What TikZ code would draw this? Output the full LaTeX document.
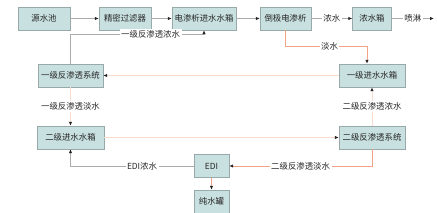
\documentclass[tikz,border=0pt]{standalone}
\usepackage{fontspec}
\newfontfamily\cjk{Noto Sans CJK SC}
\usetikzlibrary{arrows.meta,positioning,calc}
\definecolor{ink}{HTML}{262626}
\definecolor{boxfill}{HTML}{C9E0E0}
\definecolor{boxline}{HTML}{98A9A9}
\definecolor{flowgrey}{HTML}{ABABAB}
\definecolor{salmon}{HTML}{F2A286}
\definecolor{salmonlt}{HTML}{FADCCD}

\begin{document}
\begin{tikzpicture}[
  x=1pt, y=-1pt,
  font=\cjk\fontsize{8.4}{10}\selectfont,
  tank/.style={
    draw=boxline, fill=boxfill, text=ink,
    minimum height=23pt, inner sep=1pt
  },
  arr/.style={-{Latex[length=4pt,width=3.5pt,color=ink]}, draw=flowgrey, line width=0.8pt},
  hot/.style={arr, draw=salmon},
  faint/.style={arr, draw=salmonlt},
  lbl/.style={fill=white, text=ink, inner sep=1.5pt}
]
\useasboundingbox (0,0) rectangle (437,213);

% top row
\node[tank, minimum width=52pt] (src)    at (44,18.5)    {源水池};
\node[tank, minimum width=52pt] (filt)   at (125,18.5)   {精密过滤器};
\node[tank, minimum width=64pt] (edtank) at (204,18.5)   {电渗析进水水箱};
\node[tank, minimum width=51pt] (edr)    at (285.5,18.5) {倒极电渗析};
\node[tank, minimum width=39pt] (brine)  at (372,18.5)   {浓水箱};
\coordinate (spray) at (434,18.5);

% reverse osmosis
\node[tank, minimum width=66pt] (ro1tank) at (372,75.5)   {一级进水水箱};
\node[tank, minimum width=65pt] (ro1)     at (70.5,75.5)  {一级反渗透系统};
\node[tank, minimum width=67pt] (ro2tank) at (70.5,137.5) {二级进水水箱};
\node[tank, minimum width=66pt] (ro2)     at (372,137.5)  {二级反渗透系统};

% EDI
\node[tank, minimum width=35pt] (edi)  at (211.5,166)   {EDI};
\node[tank, minimum width=35pt] (pure) at (211.5,201.5) {纯水罐};

\draw[arr] (src) -- (filt);
\draw[arr] (filt) -- (edtank);
\draw[arr] (edtank) -- (edr);
\draw[arr] (edr) -- node[lbl] {浓水} (brine);
\draw[arr] (brine) -- node[lbl] {喷淋} (spray);

\draw[arr] (ro1.north) -- ++(0,-29.5) -| node[lbl, pos=0.3] {一级反渗透浓水} (edtank.south);
\draw[hot] (edr.south) -- ++(0,16) -| node[lbl, pos=0.27] {淡水} ([xshift=-5pt]ro1tank.north);

\draw[faint] (ro1tank) -- (ro1);
\draw[faint] (ro2.north) -- node[lbl] {二级反渗透浓水} (ro1tank.south);
\draw[faint] (ro1.south) -- node[lbl] {一级反渗透淡水} (ro2tank.north);
\draw[faint] (ro2tank) -- (ro2);

\draw[hot] (ro2.south) |- node[lbl, pos=0.75] {二级反渗透淡水} (edi.east);
\draw[arr] (edi.west) -| node[lbl, pos=0.21] {EDI浓水} (ro2tank.south);
\draw[hot] (edi) -- (pure);

\end{tikzpicture}
\end{document}
